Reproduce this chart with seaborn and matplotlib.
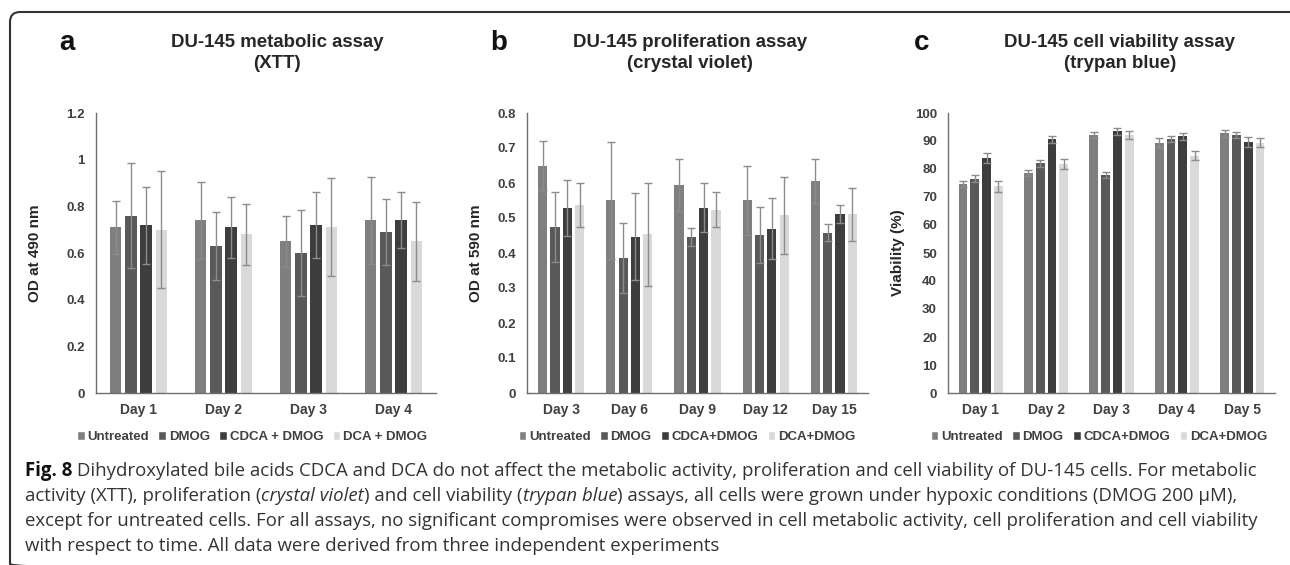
import matplotlib
matplotlib.use("Agg")
import matplotlib.pyplot as plt
import pandas as pd
import seaborn as sns
from matplotlib.patches import FancyBboxPatch, Patch

# Grupos y colores
grupos_a = ["Untreated", "DMOG", "CDCA + DMOG", "DCA + DMOG"]
grupos_bc = ["Untreated", "DMOG", "CDCA+DMOG", "DCA+DMOG"]
colores = ["#7f7f7f", "#595959", "#3d3d3d", "#d9d9d9"]

# a) XTT
dias_a = ["Day 1", "Day 2", "Day 3", "Day 4"]
xtt_untreated = [0.71, 0.74, 0.65, 0.74]
xtt_dmog = [0.76, 0.63, 0.60, 0.69]
xtt_cdca = [0.72, 0.71, 0.72, 0.74]
xtt_dca = [0.70, 0.68, 0.71, 0.65]
xtt_untreated_sd = [0.115, 0.165, 0.11, 0.185]
xtt_dmog_sd = [0.225, 0.145, 0.185, 0.14]
xtt_cdca_sd = [0.165, 0.13, 0.14, 0.12]
xtt_dca_sd = [0.25, 0.13, 0.21, 0.17]

# b) crystal violet
dias_b = ["Day 3", "Day 6", "Day 9", "Day 12", "Day 15"]
cv_untreated = [0.65, 0.55, 0.595, 0.55, 0.607]
cv_dmog = [0.475, 0.385, 0.446, 0.452, 0.458]
cv_cdca = [0.529, 0.447, 0.529, 0.469, 0.511]
cv_dca = [0.537, 0.453, 0.523, 0.508, 0.511]
cv_untreated_sd = [0.07, 0.167, 0.074, 0.1, 0.063]
cv_dmog_sd = [0.1, 0.1, 0.025, 0.08, 0.025]
cv_cdca_sd = [0.08, 0.125, 0.07, 0.087, 0.025]
cv_dca_sd = [0.063, 0.147, 0.05, 0.11, 0.076]

# c) trypan blue
dias_c = ["Day 1", "Day 2", "Day 3", "Day 4", "Day 5"]
tb_untreated = [74.6, 78.5, 92.1, 89.4, 92.7]
tb_dmog = [76.6, 82.0, 77.9, 90.8, 92.1]
tb_cdca = [83.8, 90.6, 93.5, 91.7, 89.7]
tb_dca = [73.8, 81.7, 92.1, 84.7, 89.4]
tb_untreated_sd = [1.0, 1.0, 1.0, 1.5, 1.4]
tb_dmog_sd = [1.2, 1.3, 1.0, 1.0, 1.0]
tb_cdca_sd = [1.8, 1.3, 1.2, 1.3, 1.8]
tb_dca_sd = [2.0, 1.8, 1.5, 1.6, 1.5]

sns.set_style("white")
plt.rcParams['font.family'] = ['Liberation Sans', 'DejaVu Sans']

W, H = 1290, 565
fig = plt.figure(figsize=(W / 100, H / 100), dpi=100)

# capa de fondo en pixeles para marco, titulos y pie
bg = fig.add_axes([0, 0, 1, 1], zorder=-1)
bg.set_xlim(0, W)
bg.set_ylim(H, 0)
bg.axis('off')


def caja(izq, der, arriba=113, abajo=393):
    return [izq / W, 1 - abajo / H, (der - izq) / W, (abajo - arriba) / H]


def graficar_panel(pos, dias, grupos, medias, sds, ymax, paso, ylabel, xlab, leg_x):
    ax = fig.add_axes(caja(*pos))
    df = pd.DataFrame([
        {'dia': d, 'grupo': g, 'valor': v}
        for g, vals in zip(grupos, medias)
        for d, v in zip(dias, vals)
    ])
    sns.barplot(data=df, x='dia', y='valor', hue='grupo', order=dias,
                hue_order=grupos, palette=colores, width=0.72, gap=0.25,
                errorbar=None, linewidth=0, legend=False, ax=ax)
    for cont, err in zip(ax.containers, sds):
        xs = [b.get_x() + b.get_width() / 2 for b in cont]
        ys = [b.get_height() for b in cont]
        ax.errorbar(xs, ys, yerr=err, fmt='none', ecolor='#8c8c8c',
                    elinewidth=1, capsize=2.8, capthick=1)
    ax.set_xlim(-0.5, len(dias) - 0.5)
    ax.set_ylim(0, ymax)
    ticks = [round(i * paso, 3) for i in range(int(round(ymax / paso)) + 1)]
    ax.set_yticks(ticks)
    ax.set_yticklabels([f"{t:g}" for t in ticks])
    ax.set_xlabel('')
    ax.set_ylabel('')
    sns.despine(ax=ax)
    for s in ['left', 'bottom']:
        ax.spines[s].set_color('#6e6e6e')
        ax.spines[s].set_linewidth(1)
    ax.tick_params(axis='y', length=0, pad=8, labelsize=9.5, labelcolor='#404040')
    ax.tick_params(axis='x', length=0, pad=7, labelsize=10, labelcolor='#404040')
    for lab in ax.get_xticklabels() + ax.get_yticklabels():
        lab.set_fontweight('bold')
    bg.text(xlab, 253, ylabel, rotation=90, ha='center', va='center',
            fontsize=11, fontweight='bold', color='#262626')
    handles = [Patch(facecolor=c, label=g) for c, g in zip(colores, grupos)]
    ax.legend(handles=handles, loc='center', bbox_to_anchor=(leg_x / W, 1 - 437 / H),
              bbox_transform=fig.transFigure, ncol=4, frameon=False,
              handlelength=0.6, handleheight=0.6, handletextpad=0.2,
              columnspacing=0.7, prop={'weight': 'bold', 'size': 9.5},
              labelcolor='#404040')
    return ax


graficar_panel((96, 436), dias_a, grupos_a,
               [xtt_untreated, xtt_dmog, xtt_cdca, xtt_dca],
               [xtt_untreated_sd, xtt_dmog_sd, xtt_cdca_sd, xtt_dca_sd],
               1.2, 0.2, 'OD at 490 nm', 35, 252)
graficar_panel((527, 868), dias_b, grupos_bc,
               [cv_untreated, cv_dmog, cv_cdca, cv_dca],
               [cv_untreated_sd, cv_dmog_sd, cv_cdca_sd, cv_dca_sd],
               0.8, 0.1, 'OD at 590 nm', 476, 687)
graficar_panel((948, 1275), dias_c, grupos_bc,
               [tb_untreated, tb_dmog, tb_cdca, tb_dca],
               [tb_untreated_sd, tb_dmog_sd, tb_cdca_sd, tb_dca_sd],
               100, 10, 'Viability (%)', 898, 1099)

# letras y titulos
for letra, lx, titulo, tx in [
    ('a', 67, 'DU-145 metabolic assay\n(XTT)', 277),
    ('b', 499, 'DU-145 proliferation assay\n(crystal violet)', 690),
    ('c', 922, 'DU-145 cell viability assay\n(trypan blue)', 1120),
]:
    bg.text(lx, 43, letra, ha='center', va='center', fontsize=20,
            fontweight='bold', color='#111111')
    bg.text(tx, 53, titulo, ha='center', va='center', fontsize=13.4,
            fontweight='bold', color='#262626', linespacing=1.3)

# marco redondeado (solo se ven arriba e izquierda)
marco = FancyBboxPatch((10, 12), 1300, 562, boxstyle='round,pad=0,rounding_size=10',
                       fill=False, edgecolor='#333333', linewidth=1.5)
bg.add_patch(marco)

# pie de figura
lineas = [
    [("Fig. 8", 'bold', 'normal'),
     (" Dihydroxylated bile acids CDCA and DCA do not affect the metabolic activity, "
      "proliferation and cell viability of DU-145 cells. For metabolic", 'normal', 'normal')],
    [("activity (XTT), proliferation (", 'normal', 'normal'),
     ("crystal violet", 'normal', 'italic'),
     (") and cell viability (", 'normal', 'normal'),
     ("trypan blue", 'normal', 'italic'),
     (") assays, all cells were grown under hypoxic conditions (DMOG 200 µM),", 'normal', 'normal')],
    [("except for untreated cells. For all assays, no significant compromises were observed "
      "in cell metabolic activity, cell proliferation and cell viability", 'normal', 'normal')],
    [("with respect to time. All data were derived from three independent experiments",
      'normal', 'normal')],
]
renderer = fig.canvas.get_renderer()
for i, partes in enumerate(lineas):
    x = 25
    y = 471 + i * 25
    for txt, peso, estilo in partes:
        t = bg.text(x, y, txt, ha='left', va='center', fontsize=13.4,
                    family=['Open Sans', 'DejaVu Sans'], fontweight=peso,
                    style=estilo, color='#111111' if peso == 'bold' else '#333333')
        x += t.get_window_extent(renderer=renderer).width

fig.savefig('out.png', dpi=100)
